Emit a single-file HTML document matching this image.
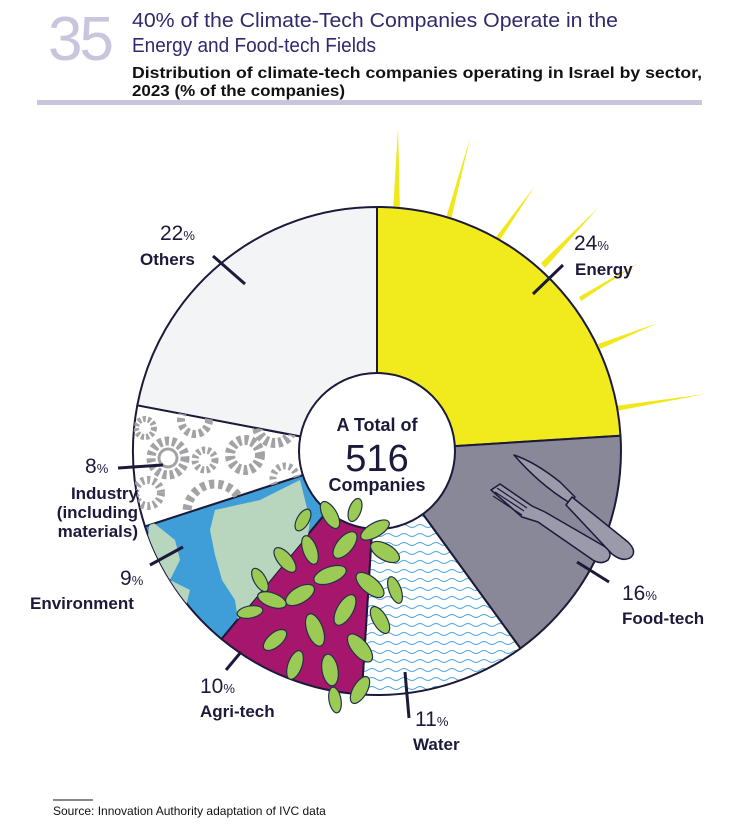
<!DOCTYPE html>
<html><head><meta charset="utf-8"><style>
body{margin:0;background:#fff;width:735px;height:826px;overflow:hidden}
svg{display:block}
text{font-family:"Liberation Sans",sans-serif}
</style></head><body>
<svg width="735" height="826" viewBox="0 0 735 826" xmlns="http://www.w3.org/2000/svg">
<defs>
<pattern id="wave" width="16" height="9" patternUnits="userSpaceOnUse">
<rect width="16" height="9" fill="#fff"/>
<path d="M0 4 Q4 1 8 4 T16 4" fill="none" stroke="#4aa3dc" stroke-width="1"/>
</pattern>
<clipPath id="cInd"><path d="M377 451 L145 526.4 A244 244 0 0 1 137.3 405.3 Z"/></clipPath>
<clipPath id="cEnv"><path d="M377 451 L221.5 639 A244 244 0 0 1 145 526.4 Z"/></clipPath>
</defs>

<!-- header -->
<text x="48" y="60" font-size="62" fill="#c8c5dd" letter-spacing="-3">35</text>
<text x="132" y="27" font-size="20" fill="#2e2a6b" textLength="486" lengthAdjust="spacingAndGlyphs">40% of the Climate-Tech Companies Operate in the</text>
<text x="132" y="52" font-size="20" fill="#2e2a6b" textLength="244" lengthAdjust="spacingAndGlyphs">Energy and Food-tech Fields</text>
<text x="132" y="78" font-size="16" fill="#111" style="font-weight:600" textLength="570" lengthAdjust="spacingAndGlyphs">Distribution of climate-tech companies operating in Israel by sector,</text>
<text x="132" y="96" font-size="16" fill="#111" style="font-weight:600" textLength="213" lengthAdjust="spacingAndGlyphs">2023 (% of the companies)</text>
<rect x="37" y="100" width="665" height="5" fill="#c8c5dd"/>

<!-- sun rays -->
<g fill="#f1e81c">
<polygon points="393,212 398,127 400,212"/>
<polygon points="446,218 470,138 451,220"/>
<polygon points="496,237 535,186 500,240"/>
<polygon points="541,263 598,208 545,268"/>
<polygon points="579,297 640,262 581,301"/>
<polygon points="598,344 658,323 600,349"/>
<polygon points="615,406 706,394 616,411"/>
</g>

<!-- slices -->
<g stroke="#1b1a3a" stroke-width="2" stroke-linejoin="round">
<path d="M377 451 L377 207 A244 244 0 0 1 620.5 435.7 Z" fill="#f1ea1c"/>
<path d="M377 451 L620.5 435.7 A244 244 0 0 1 520.4 648.4 Z" fill="#888898"/>
<path d="M377 451 L520.4 648.4 A244 244 0 0 1 361.7 694.5 Z" fill="url(#wave)"/>
<path d="M377 451 L361.7 694.5 A244 244 0 0 1 221.5 639 Z" fill="#a5166c"/>
<path d="M377 451 L221.5 639 A244 244 0 0 1 145 526.4 Z" fill="#3f9ed8"/>
<path d="M377 451 L145 526.4 A244 244 0 0 1 137.3 405.3 Z" fill="#fff"/>
<path d="M377 451 L137.3 405.3 A244 244 0 0 1 377 207 Z" fill="#f3f4f6"/>
</g>

<!-- gears -->
<g clip-path="url(#cInd)" fill="none" stroke="#a3a3a6">
<circle cx="168" cy="458" r="17" stroke-width="9" stroke-dasharray="4 3"/>
<circle cx="168" cy="458" r="9" stroke-width="3"/>
<circle cx="205" cy="460" r="10" stroke-width="7" stroke-dasharray="3 2.5"/>
<circle cx="245" cy="455" r="15" stroke-width="10" stroke-dasharray="4 3"/>
<circle cx="148" cy="493" r="13" stroke-width="8" stroke-dasharray="3 3"/>
<circle cx="215" cy="512" r="28" stroke-width="9" stroke-dasharray="5 4"/>
<circle cx="145" cy="428" r="9" stroke-width="6" stroke-dasharray="3 2"/>
<circle cx="275" cy="425" r="18" stroke-width="10" stroke-dasharray="4 3"/>
<circle cx="195" cy="420" r="14" stroke-width="8" stroke-dasharray="4 3"/>
<circle cx="285" cy="478" r="12" stroke-width="7" stroke-dasharray="3 3"/>
</g>

<!-- environment land -->
<g clip-path="url(#cEnv)" fill="#b7d6bd">
<path d="M150 520 L175 540 L180 560 L170 580 L190 590 L180 630 L140 600 Z"/>
<path d="M215 510 L260 500 L300 480 L310 520 L305 560 L285 600 L265 640 L240 635 L235 600 L222 580 L215 555 L210 530 Z"/>
</g>

<!-- food-tech utensils -->
<g fill="#9b9aaa" stroke="#1b1a3a" stroke-width="1.5" stroke-linejoin="round">
<path d="M514 455 Q535 462 560 482 L575 497 L570 503 Q540 485 514 455 Z"/>
<path d="M572 497 L628 542 Q638 552 630 558 Q622 562 612 554 L566 505 Z"/>
<path d="M491 490 L500 484 L532 506 L545 512 L602 545 Q614 552 608 560 Q600 566 590 558 L538 522 L522 517 Z"/>
</g>
<g stroke="#1b1a3a" stroke-width="1.2">
<line x1="495" y1="492" x2="524" y2="511"/><line x1="497" y1="488" x2="527" y2="508"/><line x1="493" y1="496" x2="522" y2="515"/>
</g>

<!-- center hole -->
<circle cx="377" cy="451" r="78" fill="#fff" stroke="#1b1a3a" stroke-width="2"/>
<text x="377" y="431" font-size="18" text-anchor="middle" fill="#1b1a3a" font-weight="bold">A Total of</text>
<text x="377" y="471" font-size="38" text-anchor="middle" fill="#1b1a3a">516</text>
<text x="377" y="491" font-size="18" text-anchor="middle" fill="#1b1a3a" font-weight="bold">Companies</text>

<!-- leaves -->
<g fill="#9ccb55" stroke="#24304a" stroke-width="1.2">
<ellipse cx="330" cy="515" rx="7" ry="15" transform="rotate(-30 330 515)"/>
<ellipse cx="355" cy="510" rx="6" ry="12" transform="rotate(20 355 510)"/>
<ellipse cx="375" cy="530" rx="7" ry="16" transform="rotate(60 375 530)"/>
<ellipse cx="385" cy="552" rx="8" ry="16" transform="rotate(-60 385 552)"/>
<ellipse cx="345" cy="545" rx="8" ry="16" transform="rotate(40 345 545)"/>
<ellipse cx="310" cy="550" rx="7" ry="15" transform="rotate(-20 310 550)"/>
<ellipse cx="285" cy="560" rx="7" ry="15" transform="rotate(-40 285 560)"/>
<ellipse cx="330" cy="575" rx="8" ry="17" transform="rotate(70 330 575)"/>
<ellipse cx="370" cy="585" rx="8" ry="17" transform="rotate(-50 370 585)"/>
<ellipse cx="300" cy="595" rx="8" ry="16" transform="rotate(60 300 595)"/>
<ellipse cx="272" cy="600" rx="7" ry="15" transform="rotate(-70 272 600)"/>
<ellipse cx="345" cy="610" rx="8" ry="17" transform="rotate(30 345 610)"/>
<ellipse cx="380" cy="620" rx="7" ry="15" transform="rotate(-30 380 620)"/>
<ellipse cx="315" cy="630" rx="8" ry="17" transform="rotate(-20 315 630)"/>
<ellipse cx="275" cy="640" rx="7" ry="14" transform="rotate(50 275 640)"/>
<ellipse cx="360" cy="648" rx="8" ry="17" transform="rotate(-40 360 648)"/>
<ellipse cx="295" cy="665" rx="7" ry="15" transform="rotate(20 295 665)"/>
<ellipse cx="330" cy="670" rx="8" ry="16" transform="rotate(-10 330 670)"/>
<ellipse cx="360" cy="690" rx="7" ry="15" transform="rotate(30 360 690)"/>
<ellipse cx="335" cy="700" rx="6" ry="13" transform="rotate(-10 335 700)"/>
<ellipse cx="250" cy="612" rx="6" ry="13" transform="rotate(80 250 612)"/>
<ellipse cx="260" cy="580" rx="6" ry="13" transform="rotate(-30 260 580)"/>
<ellipse cx="395" cy="590" rx="6" ry="14" transform="rotate(-20 395 590)"/>
<ellipse cx="303" cy="520" rx="6" ry="12" transform="rotate(30 303 520)"/>
</g>

<!-- leader lines -->
<g stroke="#1b1a3a" stroke-width="3" stroke-linecap="butt">
<line x1="213" y1="256" x2="245" y2="284"/>
<line x1="533" y1="294" x2="563" y2="265"/>
<line x1="577" y1="562" x2="609" y2="582"/>
<line x1="405" y1="672" x2="409" y2="718"/>
<line x1="241" y1="652" x2="226" y2="670"/>
<line x1="183" y1="547" x2="150" y2="565"/>
<line x1="163" y1="465" x2="118" y2="468"/>
</g>

<!-- labels -->
<g fill="#1b1a3a">
<text x="160" y="240" font-size="21">22<tspan font-size="13">%</tspan></text>
<text x="140" y="265" font-size="17" font-weight="bold">Others</text>
<text x="574" y="250" font-size="21">24<tspan font-size="13">%</tspan></text>
<text x="575" y="275" font-size="17" font-weight="bold">Energy</text>
<text x="622" y="600" font-size="21">16<tspan font-size="13">%</tspan></text>
<text x="622" y="624" font-size="17" font-weight="bold">Food-tech</text>
<text x="415" y="726" font-size="21">11<tspan font-size="13">%</tspan></text>
<text x="413" y="750" font-size="17" font-weight="bold">Water</text>
<text x="200" y="693" font-size="21">10<tspan font-size="13">%</tspan></text>
<text x="200" y="717" font-size="17" font-weight="bold">Agri-tech</text>
<text x="120" y="585" font-size="21">9<tspan font-size="13">%</tspan></text>
<text x="30" y="609" font-size="17" font-weight="bold">Environment</text>
<text x="85" y="473" font-size="21">8<tspan font-size="13">%</tspan></text>
<text x="138" y="499" font-size="17" font-weight="bold" text-anchor="end">Industry</text>
<text x="138" y="518" font-size="17" font-weight="bold" text-anchor="end">(including</text>
<text x="138" y="537" font-size="17" font-weight="bold" text-anchor="end">materials)</text>
</g>

<!-- footnote -->
<line x1="53" y1="800" x2="93" y2="800" stroke="#111" stroke-width="1"/>
<text x="53" y="815" font-size="12" fill="#111">Source: Innovation Authority adaptation of IVC data</text>
</svg>
</body></html>
